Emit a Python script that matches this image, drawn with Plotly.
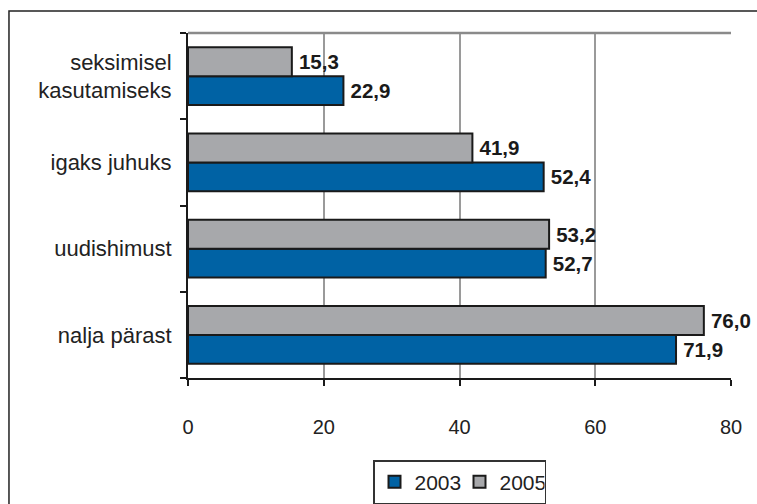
import plotly.graph_objects as go

categories = ["nalja pärast", "uudishimust", "igaks juhuks", "seksimisel<br>kasutamiseks"]
values_2003 = [71.9, 52.7, 52.4, 22.9]
values_2005 = [76.0, 53.2, 41.9, 15.3]
x_ticks = [0, 20, 40, 60, 80]

def fmt(v):
    return "\u2009" + f"{v:.1f}".replace(".", ",")

FONT = "Liberation Sans, Arial, sans-serif"

fig = go.Figure()
fig.add_trace(go.Bar(
    y=categories, x=values_2003, name="2003", orientation="h",
    marker=dict(color="#0062A4", line=dict(color="#1a1a1a", width=2)),
    text=[fmt(v) for v in values_2003], textposition="outside",
    textfont=dict(family=FONT, size=20.5, color="#1a1a1a", weight="bold"),
    cliponaxis=False,
))
fig.add_trace(go.Bar(
    y=categories, x=values_2005, name="2005", orientation="h",
    marker=dict(color="#A7A8AB", line=dict(color="#1a1a1a", width=2)),
    text=[fmt(v) for v in values_2005], textposition="outside",
    textfont=dict(family=FONT, size=20.5, color="#1a1a1a", weight="bold"),
    cliponaxis=False,
))

fig.update_layout(
    width=757, height=504,
    margin=dict(l=188, r=26, t=33, b=126),
    paper_bgcolor="white", plot_bgcolor="white",
    barmode="group", bargap=0.33, bargroupgap=0,
    font=dict(family=FONT, size=20, color="#222"),
    showlegend=True,
    legend=dict(orientation="h", x=0.5, xanchor="center", xref="paper",
                yref="container", y=1 - 460 / 504, yanchor="top",
                bordercolor="#333", borderwidth=1.5, font=dict(size=21),
                traceorder="normal", entrywidth=40, entrywidthmode="pixels"),
    xaxis=dict(range=[0, 80], tickvals=x_ticks, showgrid=True, gridcolor="#9a9a9a",
               gridwidth=1.5, showline=True, linecolor="#1a1a1a", linewidth=2,
               ticks="outside", ticklen=6, tickcolor="#1a1a1a", tickwidth=1.5,
               zeroline=False, tickfont=dict(size=20), ticklabelstandoff=24),
    yaxis=dict(showline=True, linecolor="#1a1a1a", linewidth=2, ticks="outside",
               tickson="boundaries", ticklen=6, tickcolor="#1a1a1a", tickwidth=1.5,
               showgrid=False, ticklabelstandoff=10, tickfont=dict(size=22)),
    shapes=[
        dict(type="line", xref="paper", yref="paper", x0=0, x1=1, y0=1, y1=1,
             line=dict(color="#8a8a8a", width=2.5)),
        dict(type="rect", xref="paper", yref="paper", x0=-0.3297, x1=1.08,
             y0=-0.45, y1=1.0638, line=dict(color="#222", width=1.5), layer="below"),
    ],
)

fig.write_html(
    "out.html",
    config={"displayModeBar": False},
    post_script="document.body.style.margin='0';document.body.style.overflow='hidden';",
)
